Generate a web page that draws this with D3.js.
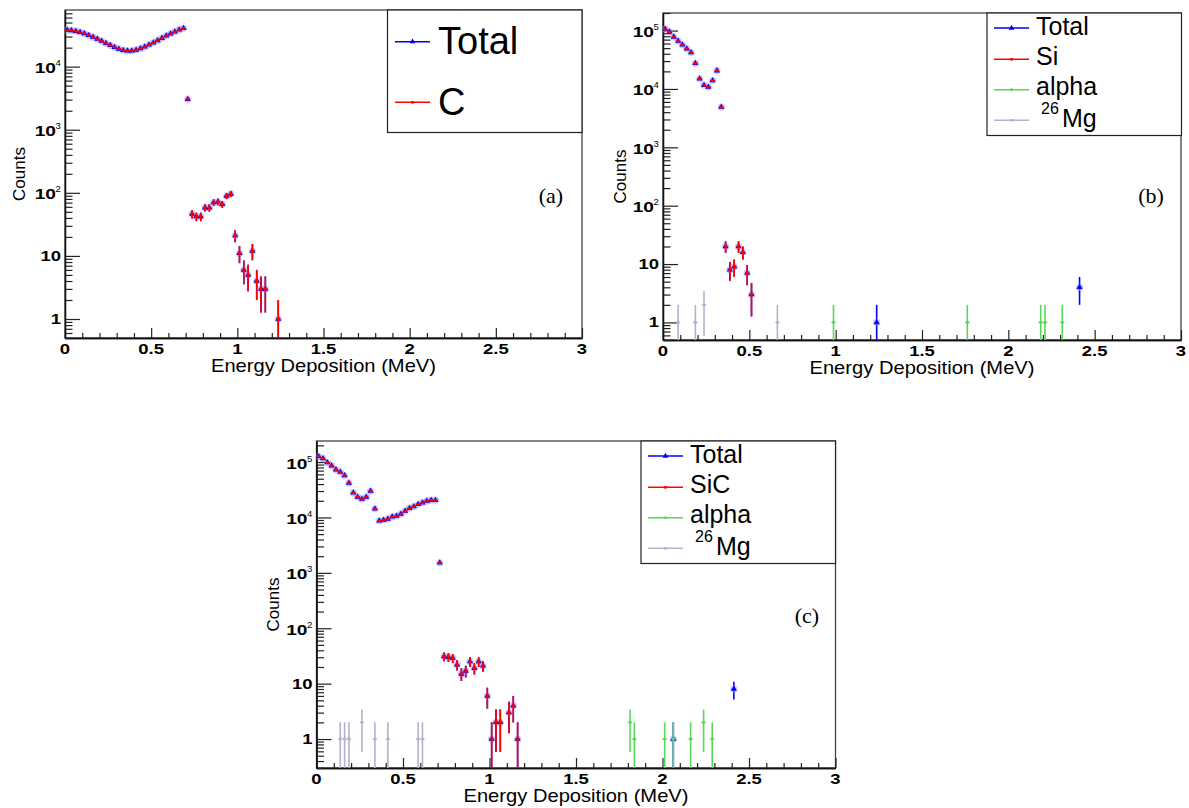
<!DOCTYPE html>
<html>
<head>
<meta charset="utf-8">
<script src="https://cdn.jsdelivr.net/npm/d3@7"></script>
<style>
  html, body { margin: 0; padding: 0; background: #fff; }
  svg { display: block; }
</style>
</head>
<body>
<svg id="chart" width="1189" height="808"></svg>
<script>
// ---------------- data ----------------
// Bin half-width of the energy histograms (MeV)
const binHalfWidth = 0.0125;

// Panel (a): carbon target
const energyA = [0.0125, 0.0375, 0.0625, 0.0875, 0.1125, 0.1375, 0.1625, 0.1875, 0.2125, 0.2375,
                 0.2625, 0.2875, 0.3125, 0.3375, 0.3625, 0.3875, 0.4125, 0.4375, 0.4625, 0.4875,
                 0.5125, 0.5375, 0.5625, 0.5875, 0.6125, 0.6375, 0.6625, 0.6875, 0.7125, 0.7375,
                 0.7625, 0.7875, 0.8125, 0.8375, 0.8625, 0.8875, 0.9125, 0.9375, 0.9625, 0.9875,
                 1.0125, 1.0375, 1.0625, 1.0875, 1.1125, 1.1375, 1.1625, 1.2375];
const carbonA = [38000, 37500, 36500, 35000, 33500, 31300, 29400, 27400, 25400, 23400,
                 21800, 20300, 19100, 18200, 17800, 17800, 18400, 19300, 20600, 22200,
                 24000, 26000, 28300, 30800, 33300, 35800, 38300, 40500, 3050, 46,
                 42, 42, 58, 58, 70, 72, 66, 89, 96, 21,
                 11, 6, 5, 12, 4, 3, 3, 1];
const energyTotalA = energyA.slice();
const totalA = carbonA.slice();          // the total coincides with the C contribution

// Panel (b): silicon target
const energySiB = [0.0125, 0.0375, 0.0625, 0.0875, 0.1125, 0.1375, 0.1625, 0.1875, 0.2125, 0.2375,
                   0.2625, 0.2875, 0.3125, 0.3375, 0.3625, 0.3875, 0.4125, 0.4375, 0.4625, 0.4875, 0.5125];
const siliconB = [106000, 95000, 78000, 66000, 57000, 49000, 42000, 27500, 15000, 11600,
                  10800, 13900, 20600, 4900, 20, 8, 9, 20, 16, 7, 3];
const energyTotalB = energySiB.concat([1.2375, 2.4125]);
const totalB = siliconB.concat([1, 4]);
const energyAlphaB = [0.9875, 1.7625, 2.1875, 2.2125, 2.3125];
const alphaB = [1, 1, 1, 1, 1];
const energyMgB = [0.0875, 0.1875, 0.2375, 0.6625];
const mgB = [1, 1, 2, 1];

// Panel (c): SiC target
const energySiCC = [0.0125, 0.0375, 0.0625, 0.0875, 0.1125, 0.1375, 0.1625, 0.1875, 0.2125, 0.2375,
                    0.2625, 0.2875, 0.3125, 0.3375, 0.3625, 0.3875, 0.4125, 0.4375, 0.4625, 0.4875,
                    0.5125, 0.5375, 0.5625, 0.5875, 0.6125, 0.6375, 0.6625, 0.6875, 0.7125, 0.7375,
                    0.7625, 0.7875, 0.8125, 0.8375, 0.8625, 0.8875, 0.9125, 0.9375, 0.9625, 0.9875,
                    1.0125, 1.0375, 1.0625, 1.1125, 1.1375, 1.1625];
const sicC = [126000, 116000, 98000, 86000, 73000, 66000, 57000, 42000, 28000, 23500,
              21600, 23500, 30000, 14300, 8700, 9000, 9400, 10300, 10600, 11600,
              13100, 14700, 15700, 17300, 18500, 19900, 20500, 20500, 1520, 31,
              30, 29, 22, 15, 17, 25, 19, 25, 21, 6,
              1, 2, 2, 3, 4, 1];
const energyTotalC = energySiCC.concat([2.0625, 2.4125]);
const totalC = sicC.concat([1, 8]);
const energyAlphaC = [1.8125, 1.8375, 2.0125, 2.0625, 2.1625, 2.2375, 2.2875];
const alphaC = [2, 1, 1, 1, 1, 2, 1];
const energyMgC = [0.1375, 0.1625, 0.1875, 0.2625, 0.3375, 0.4125, 0.5875, 0.6125];
const mgC = [1, 1, 1, 2, 1, 1, 1, 1];

// Axis ticks and labels
const xMajorTicks = [0, 0.5, 1, 1.5, 2, 2.5, 3];
const xMinorTicks = [0.1, 0.2, 0.3, 0.4, 0.6, 0.7, 0.8, 0.9, 1.1, 1.2, 1.3, 1.4, 1.6, 1.7, 1.8, 1.9,
                     2.1, 2.2, 2.3, 2.4, 2.6, 2.7, 2.8, 2.9];
const xTickLabels = ["0", "0.5", "1", "1.5", "2", "2.5", "3"];
const xTitle = "Energy Deposition (MeV)";
const yTitle = "Counts";

// Legend labels
const legendA = [{ text: "Total" }, { text: "C" }];
const legendB = [{ text: "Total" }, { text: "Si" }, { text: "alpha" }, { sup: "26", text: "Mg" }];
const legendC = [{ text: "Total" }, { text: "SiC" }, { text: "alpha" }, { sup: "26", text: "Mg" }];

// ---------------- drawing ----------------
const COL = { total: "#0000ff", red: "#ff0000", alpha: "#5ad65a", mg: "#b2b2cc" };
const svg = d3.select("#chart");
const defs = svg.append("defs");
const SANS = "'Liberation Sans', Arial, Helvetica, sans-serif";
const SERIF = "'Liberation Serif', 'Times New Roman', serif";
const STRETCH = 1.32;

function stretch(sel, f) {
  sel.each(function () {
    const w = this.getComputedTextLength();
    d3.select(this).attr("textLength", w * f).attr("lengthAdjust", "spacingAndGlyphs");
  });
}

function drawSeries(layer, x, y, energies, counts, style) {
  const pts = energies.map((e, i) => ({ e, n: counts[i] }));
  const lo = y.domain()[0] * 0.05;
  const g = layer.append("g");
  g.selectAll("line.v").data(pts).join("line")
    .attr("x1", d => x(d.e)).attr("x2", d => x(d.e))
    .attr("y1", d => y(Math.max(d.n - Math.sqrt(d.n), lo)))
    .attr("y2", d => y(d.n + Math.sqrt(d.n)))
    .attr("stroke", style.color).attr("stroke-width", 1.6);
  g.selectAll("line.h").data(pts).join("line")
    .attr("x1", d => x(d.e - binHalfWidth)).attr("x2", d => x(d.e + binHalfWidth))
    .attr("y1", d => y(d.n)).attr("y2", d => y(d.n))
    .attr("stroke", style.color).attr("stroke-width", 1.3);
  if (style.marker === "triangle") {
    g.selectAll("circle.halo").data(pts).join("circle")
      .attr("cx", d => x(d.e)).attr("cy", d => y(d.n)).attr("r", 3.6)
      .attr("fill", "#9c9cf4").attr("opacity", 0.55);
    g.selectAll("path.m").data(pts).join("path")
      .attr("d", d3.symbol(d3.symbolTriangle).size(16))
      .attr("transform", d => `translate(${x(d.e)},${y(d.n)})`)
      .attr("fill", style.color);
  } else {
    g.selectAll("rect.m").data(pts).join("rect")
      .attr("x", d => x(d.e) - 1.3).attr("y", d => y(d.n) - 1.3)
      .attr("width", 2.6).attr("height", 2.6)
      .attr("fill", style.color);
  }
}

function drawPanel(p) {
  const x = d3.scaleLinear().domain([0, 3]).range([p.left, p.right]);
  const y = d3.scaleLog().domain(p.yDomain).range([p.bottom, p.top]);
  const g = svg.append("g");

  defs.append("clipPath").attr("id", "clip-" + p.id).append("rect")
    .attr("x", p.left).attr("y", p.top)
    .attr("width", p.right - p.left).attr("height", p.bottom - p.top);

  // frame
  g.append("rect")
    .attr("x", p.left).attr("y", p.top)
    .attr("width", p.right - p.left).attr("height", p.bottom - p.top)
    .attr("fill", "none").attr("stroke", "#444").attr("stroke-width", 1.3);

  // x axis: ticks point into the plot
  const xAxisG = g.append("g").attr("transform", `translate(0,${p.bottom})`);
  xAxisG.append("g").call(d3.axisBottom(x).tickValues(xMinorTicks).tickSize(-5).tickSizeOuter(0).tickFormat(""));
  xAxisG.append("g").call(d3.axisBottom(x).tickValues(xMajorTicks).tickSize(-10).tickSizeOuter(0).tickFormat(""));
  xAxisG.selectAll("path.domain").attr("stroke", "#111").attr("stroke-width", 1.3);
  xAxisG.selectAll(".tick line").attr("stroke", "#222").attr("stroke-width", 1.2);

  g.selectAll("text.xl").data(xMajorTicks).join("text")
    .attr("x", d => x(d)).attr("y", p.bottom + 16)
    .attr("text-anchor", "middle")
    .attr("font-family", SANS).attr("font-weight", "bold").attr("font-size", 14)
    .text((d, i) => xTickLabels[i])
    .call(stretch, STRETCH);

  g.append("text")
    .attr("x", (p.left + p.right) / 2).attr("y", p.bottom + 34)
    .attr("text-anchor", "middle")
    .attr("font-family", SANS).attr("font-size", 19)
    .text(xTitle)
    .call(stretch, 1.06);

  // y axis (log)
  const [y0, y1] = p.yDomain;
  const kMin = Math.floor(Math.log10(y0)), kMax = Math.ceil(Math.log10(y1));
  const minor = [], major = [];
  for (let k = kMin; k <= kMax; k++) {
    for (let m = 1; m <= 9; m++) {
      const v = m * Math.pow(10, k);
      if (v < y0 * 0.999 || v > y1 * 1.001) continue;
      (m === 1 ? major : minor).push(v);
    }
  }
  const yAxisG = g.append("g").attr("transform", `translate(${p.left},0)`);
  yAxisG.append("g").call(d3.axisLeft(y).tickValues(minor).tickSize(-7.5).tickSizeOuter(0).tickFormat(""));
  yAxisG.append("g").call(d3.axisLeft(y).tickValues(major).tickSize(-15).tickSizeOuter(0).tickFormat(""));
  yAxisG.selectAll("path.domain").attr("stroke", "#111").attr("stroke-width", 1.3);
  yAxisG.selectAll(".tick line").attr("stroke", "#222").attr("stroke-width", 1.2);

  major.forEach(v => {
    const k = Math.round(Math.log10(v));
    const ty = y(v);
    if (k < 2) {
      g.append("text")
        .attr("x", p.left - 4).attr("y", ty + 5)
        .attr("text-anchor", "end")
        .attr("font-family", SANS).attr("font-weight", "bold").attr("font-size", 14)
        .text(k === 0 ? "1" : "10")
        .call(stretch, STRETCH);
    } else {
      g.append("text")
        .attr("x", p.left - 9).attr("y", ty + 6.5)
        .attr("text-anchor", "end")
        .attr("font-family", SANS).attr("font-weight", "bold").attr("font-size", 14.5)
        .text("10")
        .call(stretch, STRETCH);
      g.append("text")
        .attr("x", p.left - 9.5).attr("y", ty - 0.5)
        .attr("text-anchor", "start")
        .attr("font-family", SANS).attr("font-size", 9.5)
        .text(String(k));
    }
  });

  g.append("text")
    .attr("transform", `translate(${p.yTitleX},${(p.top + p.bottom) / 2}) rotate(-90)`)
    .attr("text-anchor", "middle")
    .attr("font-family", SANS).attr("font-size", 17)
    .text(yTitle);

  // data
  const layer = g.append("g").attr("clip-path", `url(#clip-${p.id})`);
  p.series.forEach(s => drawSeries(layer, x, y, s.energies, s.counts, s));

  // legend
  const L = p.legend;
  const lg = g.append("g");
  lg.append("rect")
    .attr("x", L.x).attr("y", L.y).attr("width", L.w).attr("height", L.h)
    .attr("fill", "#fff").attr("stroke", "#222").attr("stroke-width", 1.2);
  L.entries.forEach((en, i) => {
    const ly = L.y + L.lineOff[i];
    lg.append("line")
      .attr("x1", L.x + L.lineX[0]).attr("x2", L.x + L.lineX[1])
      .attr("y1", ly).attr("y2", ly)
      .attr("stroke", en.color).attr("stroke-width", 1.5);
    const mx = (L.lineX[0] + L.lineX[1]) / 2 + L.x;
    if (en.marker === "triangle") {
      lg.append("path").attr("d", d3.symbol(d3.symbolTriangle).size(14))
        .attr("transform", `translate(${mx},${ly})`).attr("fill", en.color);
    } else {
      lg.append("rect").attr("x", mx - 1.3).attr("y", ly - 1.3).attr("width", 2.6).attr("height", 2.6)
        .attr("fill", en.color);
    }
    const lab = en.label;
    if (lab.sup) {
      lg.append("text")
        .attr("x", L.x + L.supX).attr("y", L.y + L.supBase)
        .attr("font-family", SANS).attr("font-size", L.supSize)
        .text(lab.sup);
      lg.append("text")
        .attr("x", L.x + L.supTextX).attr("y", L.y + L.baseOff[i])
        .attr("font-family", SANS).attr("font-size", L.fontSize)
        .text(lab.text);
    } else {
      lg.append("text")
        .attr("x", L.x + L.textX).attr("y", L.y + L.baseOff[i])
        .attr("font-family", SANS).attr("font-size", L.fontSize)
        .text(lab.text);
    }
  });

  // panel letter
  g.append("text")
    .attr("x", p.letter.x).attr("y", p.letter.y)
    .attr("text-anchor", "middle")
    .attr("font-family", SERIF).attr("font-size", 22)
    .text(p.letter.text);
}

const smallLegend = {
  w: 194.5, h: 122.5, lineX: [7, 42], lineOff: [15, 46.3, 76.7, 107.3],
  baseOff: [22.3, 52.3, 82.3, 114], textX: 49, fontSize: 25,
  supX: 54, supBase: 100.7, supSize: 16, supTextX: 75
};

const panels = [
  {
    id: "a", left: 65, right: 582, top: 10, bottom: 338, yDomain: [0.5, 7.9e4], yTitleX: 25,
    series: [
      { energies: energyTotalA, counts: totalA, color: COL.total, marker: "triangle" },
      { energies: energyA, counts: carbonA, color: COL.red, marker: "square" }
    ],
    legend: {
      x: 387.5, y: 10, w: 194.5, h: 122.5, lineX: [7.5, 42.5], lineOff: [31.7, 92.3],
      baseOff: [44.3, 105], textX: 50.5, fontSize: 38,
      entries: [
        { label: legendA[0], color: COL.total, marker: "triangle" },
        { label: legendA[1], color: COL.red, marker: "square" }
      ]
    },
    letter: { x: 551, y: 203, text: "(a)" }
  },
  {
    id: "b", left: 663, right: 1181, top: 13, bottom: 340, yDomain: [0.5, 2.0e5], yTitleX: 626,
    series: [
      { energies: energyTotalB, counts: totalB, color: COL.total, marker: "triangle" },
      { energies: energySiB, counts: siliconB, color: COL.red, marker: "square" },
      { energies: energyAlphaB, counts: alphaB, color: COL.alpha, marker: "square" },
      { energies: energyMgB, counts: mgB, color: COL.mg, marker: "square" }
    ],
    legend: Object.assign({ x: 987, y: 13, entries: [
      { label: legendB[0], color: COL.total, marker: "triangle" },
      { label: legendB[1], color: COL.red, marker: "square" },
      { label: legendB[2], color: COL.alpha, marker: "square" },
      { label: legendB[3], color: COL.mg, marker: "square" }
    ] }, smallLegend),
    letter: { x: 1151, y: 203, text: "(b)" }
  },
  {
    id: "c", left: 316.5, right: 835.5, top: 441, bottom: 768, yDomain: [0.3, 2.4e5], yTitleX: 279,
    series: [
      { energies: energyTotalC, counts: totalC, color: COL.total, marker: "triangle" },
      { energies: energySiCC, counts: sicC, color: COL.red, marker: "square" },
      { energies: energyAlphaC, counts: alphaC, color: COL.alpha, marker: "square" },
      { energies: energyMgC, counts: mgC, color: COL.mg, marker: "square" }
    ],
    legend: Object.assign({ x: 641, y: 441, entries: [
      { label: legendC[0], color: COL.total, marker: "triangle" },
      { label: legendC[1], color: COL.red, marker: "square" },
      { label: legendC[2], color: COL.alpha, marker: "square" },
      { label: legendC[3], color: COL.mg, marker: "square" }
    ] }, smallLegend),
    letter: { x: 807, y: 623, text: "(c)" }
  }
];

panels.forEach(drawPanel);
</script>
</body>
</html>
